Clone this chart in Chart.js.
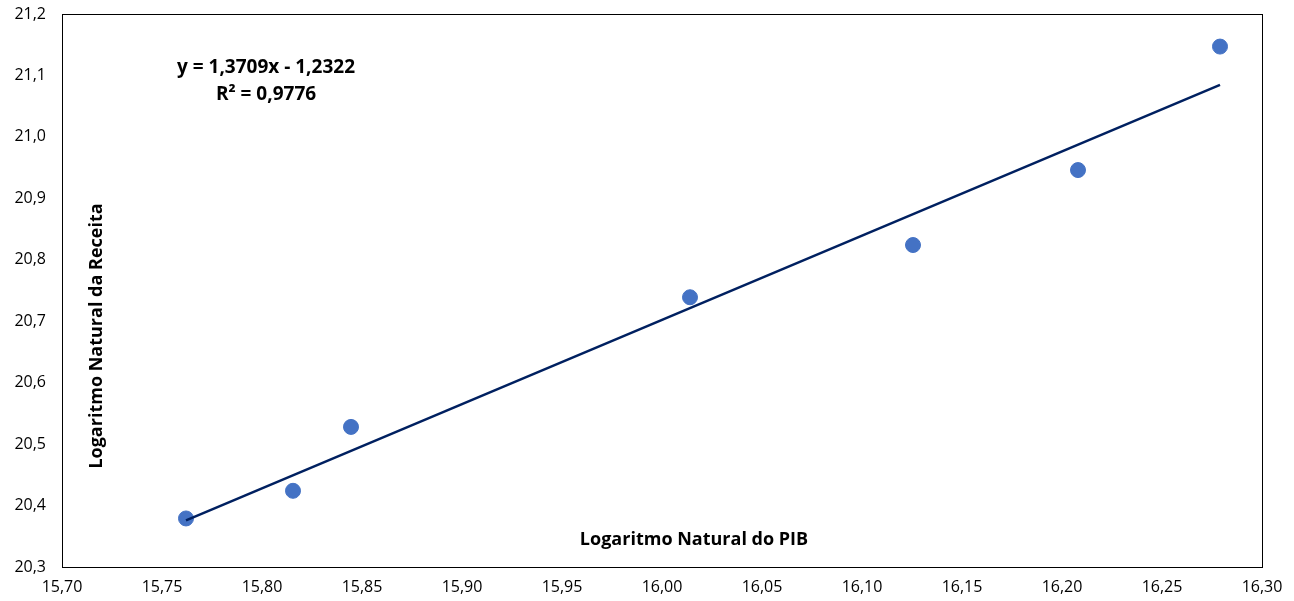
<!DOCTYPE html>
<html>
<head>
<meta charset="utf-8">
<script src="https://cdn.jsdelivr.net/npm/chart.js@4/dist/chart.umd.min.js"></script>
<style>
  html, body { margin: 0; padding: 0; background: #fff; }
  #wrap { width: 1294px; height: 601px; }
</style>
</head>
<body>
<div id="wrap"><canvas id="lnChart"></canvas></div>
<script>
// valores
const lnPIB = [15.762, 15.8155, 15.8445, 16.014, 16.1255, 16.208, 16.279];
const lnReceita = [20.379, 20.424, 20.528, 20.739, 20.824, 20.946, 21.147];
// linha de tendência (equação mostrada no gráfico)
const trendSlope = 1.3709;
const trendIntercept = -1.2322;
const eqText = ["y = 1,3709x - 1,2322", "R² = 0,9776"];
const xTitle = "Logaritmo Natural do PIB";
const yTitle = "Logaritmo Natural da Receita";

const points = lnPIB.map((x, i) => ({x: x, y: lnReceita[i]}));
const xMin = Math.min(...lnPIB);
const xMax = Math.max(...lnPIB);
const trend = [xMin, xMax].map(x => ({x: x, y: trendSlope * x + trendIntercept}));

const fmt = (v, d) => v.toFixed(d).replace(".", ",");

const boxAndLabels = {
  id: "boxAndLabels",
  beforeDatasetsDraw(chart) {
    const ctx = chart.ctx;
    const a = chart.chartArea;
    ctx.save();
    ctx.strokeStyle = "#000";
    ctx.lineWidth = 1;
    ctx.strokeRect(Math.round(a.left) + 0.5, Math.round(a.top) + 0.5,
                   Math.round(a.right - a.left), Math.round(a.bottom - a.top));
    ctx.fillStyle = "#000";
    ctx.textAlign = "center";
    ctx.textBaseline = "middle";
    ctx.font = "bold 18px 'Open Sans'";
    ctx.fillText(xTitle, a.left + 632, a.top + 526);
    ctx.font = "bold 19px 'Open Sans'";
    ctx.fillText(eqText[0], a.left + 204, a.top + 54);
    ctx.fillText(eqText[1], a.left + 204, a.top + 81);
    ctx.font = "bold 18px 'Open Sans'";
    ctx.translate(a.left + 35, a.top + 322);
    ctx.rotate(-Math.PI / 2);
    ctx.fillText(yTitle, 0, 0);
    ctx.restore();
  }
};

new Chart(document.getElementById("lnChart"), {
  type: "scatter",
  data: {
    datasets: [
      {
        label: "Tendência",
        data: trend,
        showLine: true,
        borderColor: "#002060",
        borderWidth: 2.5,
        pointRadius: 0,
        fill: false,
      },
      {
        label: "Ln",
        data: points,
        backgroundColor: "#4472C4",
        borderColor: "#4472C4",
        pointRadius: 7.5,
        pointHoverRadius: 7.5,
      },
    ],
  },
  options: {
    responsive: true,
    maintainAspectRatio: false,
    animation: false,
    layout: { padding: { top: 14, right: 32, left: 0, bottom: 0 } },
    plugins: {
      legend: { display: false },
      tooltip: { enabled: false },
    },
    scales: {
      x: {
        type: "linear",
        min: 15.70,
        max: 16.30,
        afterFit(s) { s.height = 34; s.paddingLeft = 0; s.paddingRight = 0; },
        grid: { display: false, drawTicks: false },
        border: { display: false },
        ticks: {
          stepSize: 0.05,
          padding: 11,
          color: "#000",
          font: { family: "'Open Sans'", size: 16 },
          maxRotation: 0,
          autoSkip: false,
          callback: (v) => fmt(v, 2),
        },
      },
      y: {
        type: "linear",
        min: 20.3,
        max: 21.2,
        afterFit(s) { s.width = 62; s.paddingTop = 0; s.paddingBottom = 0; },
        grid: { display: false, drawTicks: false },
        border: { display: false },
        ticks: {
          stepSize: 0.1,
          padding: 16,
          color: "#000",
          font: { family: "'Open Sans'", size: 16 },
          autoSkip: false,
          callback: (v) => fmt(v, 1),
        },
      },
    },
  },
  plugins: [boxAndLabels],
});
</script>
</body>
</html>
